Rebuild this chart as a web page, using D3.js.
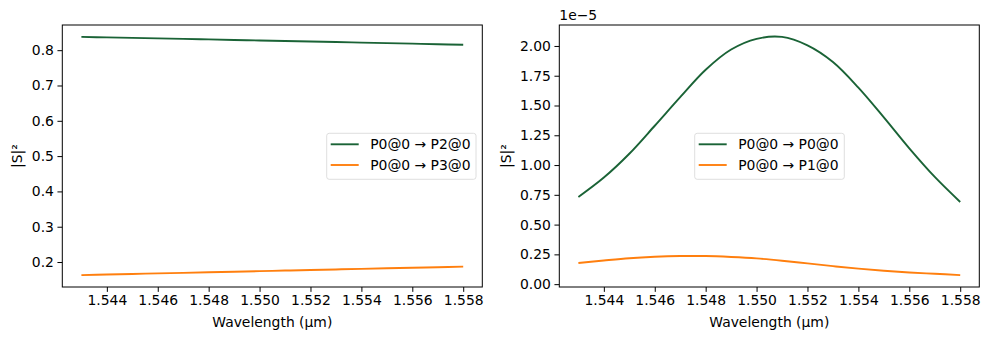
<!DOCTYPE html>
<html><head><meta charset="utf-8">
<script src="https://cdn.jsdelivr.net/npm/d3@7"></script>
<style>body{margin:0;background:#fff}svg{display:block}text{font-family:"DejaVu Sans",sans-serif}</style>
</head><body>
<svg id="c" width="990" height="340"></svg>
<script>
const wavelengths = [1.543,1.544,1.545,1.546,1.547,1.548,1.549,1.550,1.551,1.552,1.553,1.554,1.555,1.556,1.557,1.558];
const p2 = [0.8376,0.8362,0.8348,0.8334,0.8320,0.8305,0.8290,0.8275,0.8260,0.8245,0.8230,0.8215,0.8200,0.8185,0.8170,0.8152];
const p3 = [0.1630,0.1646,0.1662,0.1678,0.1694,0.1710,0.1726,0.1742,0.1758,0.1774,0.1790,0.1806,0.1822,0.1838,0.1854,0.1870];
const p0 = [0.732,0.895,1.095,1.330,1.570,1.800,1.970,2.060,2.076,2.005,1.865,1.650,1.400,1.140,0.900,0.690];
const p1 = [0.178,0.199,0.218,0.230,0.236,0.236,0.228,0.216,0.197,0.174,0.151,0.130,0.113,0.098,0.087,0.076];
const xTicks = [1.544,1.546,1.548,1.550,1.552,1.554,1.556,1.558];
const yTicksL = [0.2,0.3,0.4,0.5,0.6,0.7,0.8];
const yTicksR = [0,0.25,0.5,0.75,1.0,1.25,1.5,1.75,2.0];
const labelsL = ["P0@0 \u2192 P2@0","P0@0 \u2192 P3@0"];
const labelsR = ["P0@0 \u2192 P0@0","P0@0 \u2192 P1@0"];
const GREEN = "#1a6336", ORANGE = "#ff7f0e";
const FS = 13.9;
const svg = d3.select("#c");

function panel(x0, x1, series, labels, yTicks, yfmt, ylabX, legendX, offsetText){
  const top = 25, bot = 287;
  const allY = series.flat();
  const ymin = d3.min(allY), ymax = d3.max(allY), m = (ymax-ymin)*0.05;
  const xs = d3.scaleLinear().domain([1.543-0.00075, 1.558+0.00075]).range([x0,x1]);
  const ys = d3.scaleLinear().domain([ymin-m, ymax+m]).range([bot, top]);
  const g = svg.append("g");
  const cols = [GREEN, ORANGE];
  series.forEach((s,i)=>{
    g.append("path").datum(s.map((v,j)=>[wavelengths[j],v]))
      .attr("fill","none").attr("stroke",cols[i]).attr("stroke-width",1.9)
      .attr("d", d3.line().x(d=>xs(d[0])).y(d=>ys(d[1])).curve(d3.curveCatmullRom));
  });
  const xa = g.append("g").attr("transform",`translate(0,${bot})`)
    .call(d3.axisBottom(xs).tickValues(xTicks).tickFormat(d3.format(".3f")).tickSize(4.86).tickPadding(3.5));
  const ya = g.append("g").attr("transform",`translate(${x0},0)`)
    .call(d3.axisLeft(ys).tickValues(yTicks).tickFormat(yfmt).tickSize(4.86).tickPadding(3.5));
  [xa,ya].forEach(a=>{a.select(".domain").remove();
    a.selectAll("text").attr("font-size",FS).attr("fill","#000").style("font-family","DejaVu Sans");
    a.selectAll("line").attr("stroke","#000").attr("stroke-width",1);});
  g.append("rect").attr("x",x0).attr("y",top).attr("width",x1-x0).attr("height",bot-top)
    .attr("fill","none").attr("stroke","#000").attr("stroke-width",1);
  g.append("text").attr("x",(x0+x1)/2).attr("y",327).attr("text-anchor","middle")
    .attr("font-size",FS).text("Wavelength (\u03bcm)");
  g.append("text").attr("transform",`translate(${ylabX},${(top+bot)/2}) rotate(-90)`)
    .attr("text-anchor","middle").attr("font-size",FS).text("|S|\u00b2");
  if(offsetText) g.append("text").attr("x",x0).attr("y",20).attr("font-size",FS).text(offsetText);
  const lw = labels===labelsL ? 149.3 : 149.6;
  const lg = g.append("g").attr("transform",`translate(${legendX},133.3)`);
  lg.append("rect").attr("width",lw).attr("height",46).attr("rx",2.5)
    .attr("fill","#fff").attr("fill-opacity",0.8).attr("stroke","#d6d6d6").attr("stroke-width",0.8);
  labels.forEach((t,i)=>{
    const yy = 11 + i*20.7;
    lg.append("line").attr("x1",4).attr("x2",32).attr("y1",yy).attr("y2",yy)
      .attr("stroke",cols[i]).attr("stroke-width",1.9);
    lg.append("text").attr("x",43.5).attr("y",yy+5).attr("font-size",FS).text(t);
  });
}
panel(62.3, 482.3, [p2,p3], labelsL, yTicksL, d3.format(".1f"), 22, 326.7, null);
panel(559.3, 979.3, [p0,p1], labelsR, yTicksR, d3.format(".2f"), 511, 694.7, "1e\u22125");
</script>
</body></html>
